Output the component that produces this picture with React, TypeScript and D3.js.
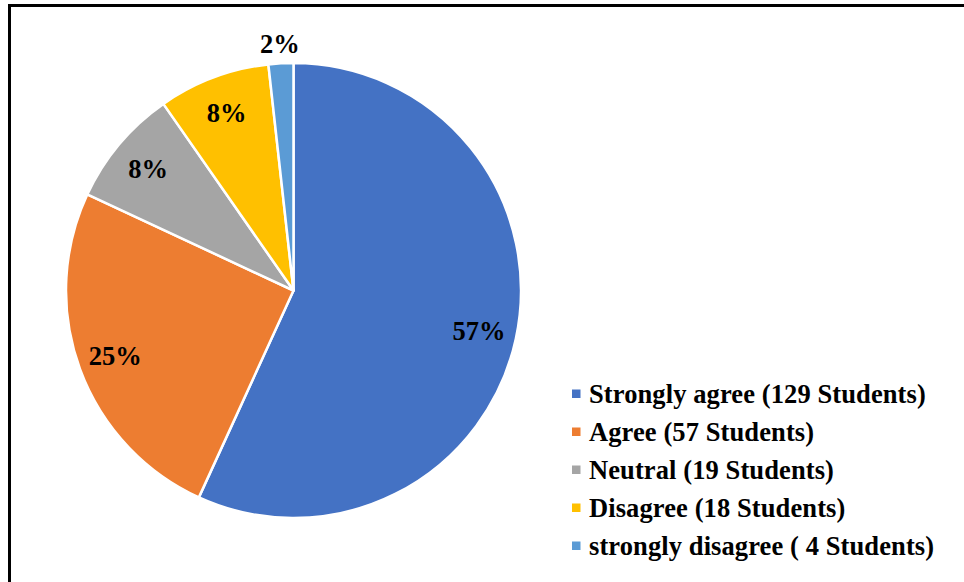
import React from "react";
import * as d3 from "d3";

const categories = [
  "Strongly agree (129 Students)",
  "Agree (57 Students)",
  "Neutral (19 Students)",
  "Disagree (18 Students)",
  "strongly disagree ( 4 Students)",
];
const counts = [129, 57, 19, 18, 4];
const percentLabels = ["57%", "25%", "8%", "8%", "2%"];
const colors = ["#4472C4", "#ED7D31", "#A5A5A5", "#FFC000", "#5B9BD5"];

const W = 964;
const H = 582;
const cx = 293.5;
const cy = 290.5;
const R = 227.5;
const FONT = "'Liberation Serif', 'Times New Roman', serif";

export default function App() {
  const total = d3.sum(counts);
  const pie = d3
    .pie<number>()
    .sort(null)
    .startAngle(0)
    .endAngle(2 * Math.PI)
    .value((d) => d);
  const arcs = pie(counts);
  const arc = d3.arc<d3.PieArcDatum<number>>().innerRadius(0).outerRadius(R);
  const inLabel = d3
    .arc<d3.PieArcDatum<number>>()
    .innerRadius(R * 0.835)
    .outerRadius(R * 0.835);
  const outLabel = d3
    .arc<d3.PieArcDatum<number>>()
    .innerRadius(R + 20)
    .outerRadius(R + 20);

  const legendY = d3
    .scalePoint<string>()
    .domain(categories)
    .range([394, 546]);

  return (
    <svg
      width={W}
      height={H}
      style={{ position: "absolute", left: 0, top: 0, background: "#fff" }}
    >
      <rect x={0} y={0} width={W} height={H} fill="#fff" />
      <g transform={`translate(${cx},${cy})`}>
        {arcs.map((a, i) => (
          <path
            key={i}
            d={arc(a) || ""}
            fill={colors[i]}
            stroke="#fff"
            strokeWidth={2.5}
            strokeLinejoin="round"
          />
        ))}
        {arcs.map((a, i) => {
          const small = counts[i] / total < 0.03;
          const [x, y] = small ? outLabel.centroid(a) : inLabel.centroid(a);
          return (
            <text
              key={i}
              x={x}
              y={y}
              dy="0.35em"
              textAnchor="middle"
              fontFamily={FONT}
              fontWeight="bold"
              fontSize={26.5}
              fill="#000"
            >
              {percentLabels[i]}
            </text>
          );
        })}
      </g>
      <g>
        {categories.map((c, i) => {
          const y = legendY(c) as number;
          return (
            <g key={c}>
              <rect x={572} y={y - 4.5} width={8.5} height={8.5} fill={colors[i]} />
              <text
                x={589}
                y={y}
                dy="0.33em"
                fontFamily={FONT}
                fontWeight="bold"
                fontSize={26.5}
                letterSpacing={0.1}
                fill="#000"
              >
                {c}
              </text>
            </g>
          );
        })}
      </g>
      <path d={`M9.5,${H + 5} V5.5 H${W + 5}`} fill="none" stroke="#000" strokeWidth={3} />
    </svg>
  );
}
